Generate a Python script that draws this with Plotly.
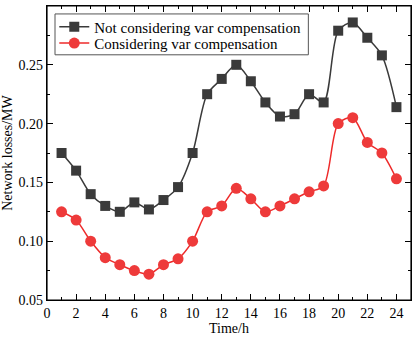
import plotly.graph_objects as go

hours = list(range(1, 25))
not_comp = [0.175, 0.160, 0.140, 0.130, 0.125, 0.133, 0.127, 0.135, 0.146, 0.175,
            0.225, 0.238, 0.250, 0.236, 0.218, 0.206, 0.208, 0.225, 0.218, 0.279,
            0.286, 0.273, 0.258, 0.214]
comp = [0.125, 0.118, 0.100, 0.086, 0.080, 0.075, 0.072, 0.080, 0.085, 0.100,
        0.125, 0.130, 0.145, 0.136, 0.125, 0.130, 0.136, 0.142, 0.147, 0.200,
        0.205, 0.184, 0.175, 0.153]
x_ticks = [0, 2, 4, 6, 8, 10, 12, 14, 16, 18, 20, 22, 24]
y_ticks = [0.05, 0.10, 0.15, 0.20, 0.25, 0.30]

FONT = "Liberation Serif"
fig = go.Figure()
fig.add_trace(go.Scatter(
    x=hours, y=not_comp, mode="lines+markers", name="Not considering var compensation",
    line=dict(color="#3a3a3a", width=1.5, shape="spline", smoothing=0.8),
    marker=dict(symbol="square", size=10, color="#3a3a3a"), legend="legend", showlegend=True))
fig.add_trace(go.Scatter(
    x=hours, y=comp, mode="lines+markers", name="Considering var compensation",
    line=dict(color="#ee2a2a", width=1.5, shape="spline", smoothing=0.8),
    marker=dict(symbol="circle", size=11, color="#ee3a3a"), legend="legend2", showlegend=True))

axis_common = dict(showline=True, linecolor="black", linewidth=1.2, mirror="allticks",
                   ticks="inside", ticklen=6, tickcolor="black", tickwidth=1.2,
                   showgrid=False, zeroline=False,
                   tickfont=dict(family=FONT, size=14, color="black"))
xminor = dict(dtick=1, tick0=0, ticks="inside", ticklen=3, tickcolor="black", tickwidth=1.2)
yminor = dict(dtick=0.025, tick0=0.05, ticks="inside", ticklen=3, tickcolor="black", tickwidth=1.2)

leg_common = dict(xanchor="left", yanchor="top", borderwidth=0, bgcolor="rgba(0,0,0,0)",
                  font=dict(family=FONT, size=15, color="black"), itemwidth=30)
fig.update_layout(
    width=415, height=337, margin=dict(l=47, r=4, t=6, b=37),
    paper_bgcolor="white", plot_bgcolor="white", showlegend=True,
    font=dict(family=FONT, size=14, color="black"),
    xaxis=dict(range=[0, 25], tickvals=x_ticks, minor=xminor,
               title=dict(text="Time/h", font=dict(family=FONT, size=14, color="black"), standoff=2),
               **axis_common),
    yaxis=dict(range=[0.05, 0.30], tickvals=y_ticks, tickformat=".2f", minor=yminor,
               title=dict(text="Network losses/MW", font=dict(family=FONT, size=14, color="black"), standoff=4),
               **axis_common),
    legend=dict(x=0.02, y=0.985, **leg_common),
    legend2=dict(x=0.02, y=0.929, **leg_common),
    shapes=[dict(type="rect", xref="paper", yref="paper", x0=0.022, x1=0.718, y0=0.834, y1=0.973,
                 line=dict(color="#555555", width=1), fillcolor="white", layer="below"),
            dict(type="rect", xref="paper", yref="paper", x0=0, x1=1, y0=0, y1=1,
                 line=dict(color="black", width=1.2), layer="above")],
)
fig.write_html("out.html", config={"displayModeBar": False},
               post_script="document.body.style.margin='0';document.body.style.overflow='hidden';")
